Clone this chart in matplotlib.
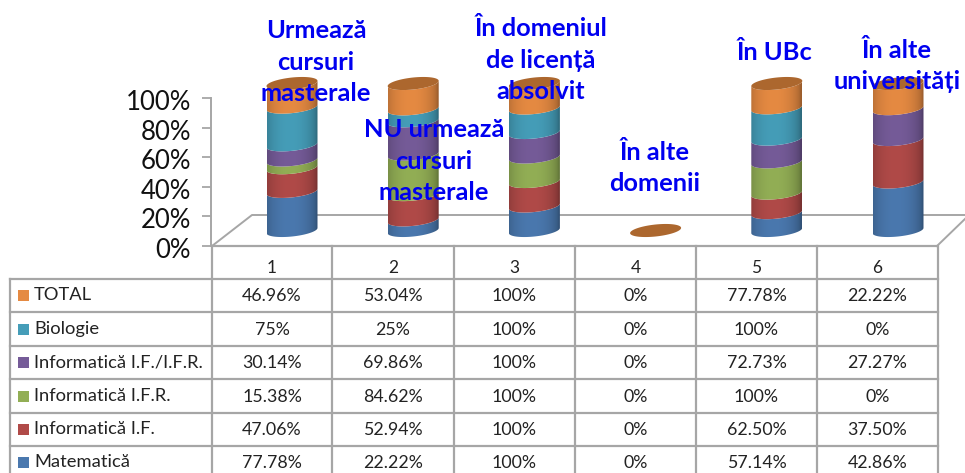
import numpy as np
import matplotlib
matplotlib.use("Agg")
import matplotlib.pyplot as plt
from matplotlib.colors import to_rgb
from matplotlib.patches import Polygon, Rectangle
from matplotlib.ticker import PercentFormatter
from matplotlib.transforms import ScaledTranslation

categories = ["1", "2", "3", "4", "5", "6"]
series_names = ["Matematică", "Informatică I.F.", "Informatică I.F.R.",
                "Informatică I.F./I.F.R.", "Biologie", "TOTAL"]
matematica = [77.78, 22.22, 100, 0, 57.14, 42.86]
info_if = [47.06, 52.94, 100, 0, 62.50, 37.50]
info_ifr = [15.38, 84.62, 100, 0, 100, 0]
info_both = [30.14, 69.86, 100, 0, 72.73, 27.27]
biologie = [75, 25, 100, 0, 100, 0]
total = [46.96, 53.04, 100, 0, 77.78, 22.22]
cell_text = [
    ["77.78%", "22.22%", "100%", "0%", "57.14%", "42.86%"],
    ["47.06%", "52.94%", "100%", "0%", "62.50%", "37.50%"],
    ["15.38%", "84.62%", "100%", "0%", "100%", "0%"],
    ["30.14%", "69.86%", "100%", "0%", "72.73%", "27.27%"],
    ["75%", "25%", "100%", "0%", "100%", "0%"],
    ["46.96%", "53.04%", "100%", "0%", "77.78%", "22.22%"],
]
colors = ["#4A78AE", "#B04A48", "#92AE55", "#755B98", "#459DB8", "#E58A42"]
annotations = ["Urmează\ncursuri\nmasterale", "NU urmează\ncursuri\nmasterale",
               "În domeniul\nde licență\nabsolvit", "În alte\ndomenii", "În UBc",
               "În alte\nuniversități"]

W, H = 965, 473
plt.rcParams["font.family"] = ["Lato", "DejaVu Sans"]
GREY = "#a6a6a6"


def px_axes(x0, y0, x1, y1):
    # pixel box (y down) to a figure axes
    return fig.add_axes([x0 / W, 1 - y1 / H, (x1 - x0) / W, (y1 - y0) / H])


fig = plt.figure(figsize=(W / 100, H / 100), dpi=100)

# overlay in pixels for floor and table lines
grid = px_axes(0, 0, W, H)
grid.set_xlim(0, W)
grid.set_ylim(H, 0)
grid.axis("off")
grid.plot([212, 252, 965], [246, 215, 215], color=GREY, lw=1.4)
grid.plot([937, 967], [246, 217], color=GREY, lw=1.4)
grid.plot([212, 937], [246, 246], color=GREY, lw=1.6)
col_x = [212, 332, 454, 575, 696, 817, 938]
row_y = [279, 312, 346, 379, 413, 446]
for x in col_x:
    grid.plot([x, x], [246, H], color=GREY, lw=1.6)
grid.plot([10, 10], [279, H], color=GREY, lw=1.6)
for y in row_y:
    grid.plot([10, 938], [y, y], color=GREY, lw=1.6)

# y axis on the back wall
wall = px_axes(211, 98, 240, 246)
wall.patch.set_alpha(0)
wall.set_ylim(0, 100)
wall.set_yticks([0, 20, 40, 60, 80, 100])
wall.yaxis.set_major_formatter(PercentFormatter(100, decimals=0))
wall.tick_params(axis="y", length=6.5, width=1.3, color=GREY, labelsize=18.5,
                 labelcolor="#111111", pad=8)
wall.set_xticks([])
for lbl in wall.get_yticklabels():
    lbl.set_transform(lbl.get_transform() + ScaledTranslation(0, -2 / 100, fig.dpi_scale_trans))
for name, sp in wall.spines.items():
    sp.set_visible(name == "left")
sp = wall.spines["left"]
sp.set_color(GREY)
sp.set_linewidth(1.4)

# cylinders, y limits padded so the ellipses are not cut
xpx = (958.6 - 231.4) / 6
ypx = (230.5 - 83.5) / 100
ax = px_axes(231.4, 83.5 - 20 * ypx, 958.6, 230.5 + 20 * ypx)
ax.patch.set_alpha(0)
ax.axis("off")
half_w = 25.5 / xpx
ell_b = 6.0 / ypx
ell_k = 2.6 / ypx

u = np.linspace(-1, 1, 256)
shade = 0.68 + 0.32 * np.clip(1 - ((u + 0.1) / 1.05) ** 2, 0, 1) ** 0.6
shade = shade[None, :, None]


def arc(xc, y, t):
    return np.column_stack([xc + half_w * np.cos(t), y + ell_b * np.sin(t) + ell_k * np.cos(t)])


values = np.array([matematica, info_if, info_ifr, info_both, biologie, total], dtype=float)
sums = values.sum(axis=0)
shares = np.divide(values, sums, out=np.zeros_like(values), where=sums > 0) * 100
lower = np.linspace(np.pi, 2 * np.pi, 60)
full = np.linspace(0, 2 * np.pi, 120)

for i in range(len(categories)):
    xc = i + 1
    base = 0.0
    for j, col in enumerate(colors):
        h = shares[j, i]
        if h <= 0:
            continue
        verts = np.vstack([arc(xc, base, lower), arc(xc, base + h, lower)[::-1]])
        rgb = np.array(to_rgb(col))[None, None, :] * shade
        im = ax.imshow(rgb, aspect="auto", interpolation="bilinear", zorder=2,
                       extent=[xc - half_w, xc + half_w, base - 2 * ell_b, base + h + ell_b])
        im.set_clip_path(Polygon(verts, transform=ax.transData))
        base += h
    ax.add_patch(Polygon(arc(xc, base, full), closed=True, facecolor="#AC672E",
                         edgecolor="none", zorder=3))
ax.set_xlim(0.5, 6.5)
ax.set_ylim(-20, 120)

# text overlay
top = px_axes(0, 0, W, H)
top.patch.set_alpha(0)
top.set_xlim(0, W)
top.set_ylim(H, 0)
top.axis("off")

label_pos = [(316, 62), (434, 161), (541, 60), (655, 168), (775, 52), (897, 66)]
for txt, (x, y) in zip(annotations, label_pos):
    top.text(x, y, txt, color="#0000F0", fontsize=18.3, fontweight="bold",
             ha="center", va="center", linespacing=1.47)

centers = [(col_x[k] + col_x[k + 1]) / 2 for k in range(6)]
for c, name in zip(centers, categories):
    top.text(c, 268, name, fontsize=12.5, ha="center", va="center", color="#222222")

row_mid = [462, 429, 396, 362, 329, 295]
for j, name in enumerate(series_names):
    y = row_mid[j]
    top.add_patch(Rectangle((18, y - 5.5), 11, 11, facecolor=colors[j], edgecolor="none"))
    top.text(34, y, name, fontsize=13.2, ha="left", va="center", color="#222222")
    for c, s in zip(centers, cell_text[j]):
        top.text(c, y + 1, s, fontsize=12.8, ha="center", va="center", color="#222222")

fig.savefig("out.png", dpi=100)
